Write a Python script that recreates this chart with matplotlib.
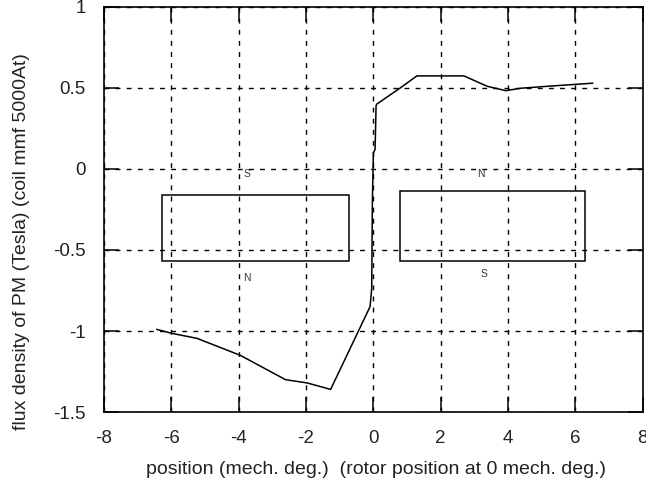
import matplotlib
matplotlib.use("Agg")
import matplotlib.pyplot as plt
from matplotlib.patches import Rectangle

plt.rcParams['font.family'] = ['Liberation Sans', 'DejaVu Sans']

# flux density profile along the air gap
position = [-6.43, -5.99, -5.24, -3.95, -2.61, -1.97, -1.27, -0.10, -0.05,
            -0.03, 0.00, 0.05, 0.08, 0.10, 0.80, 1.29, 2.69, 3.38, 3.93,
            4.38, 5.17, 6.51]
flux = [-0.99, -1.014, -1.045, -1.15, -1.30, -1.32, -1.36, -0.85, -0.74,
        -0.20, 0.10, 0.12, 0.39, 0.40, 0.50, 0.574, 0.574, 0.51, 0.483,
        0.498, 0.51, 0.529]

# permanent magnet outlines: (x0, x1, y0, y1)
magnets = [(-6.27, -0.73, -0.565, -0.16), (0.80, 6.27, -0.565, -0.134)]
# pole labels: (x, y, text)
poles = [(-3.75, -0.03, 'S'), (-3.75, -0.67, 'N'), (3.2, -0.03, 'N'), (3.29, -0.65, 'S')]

xticks = [-8, -6, -4, -2, 0, 2, 4, 6, 8]
yticks = [-1.5, -1, -0.5, 0, 0.5, 1]
ytick_labels = ['-1.5', '-1', '-0.5', '0', '0.5', '1']

fig = plt.figure(figsize=(6.46, 4.90), dpi=100)
ax = fig.add_axes([0.161, 0.159, 0.834, 0.827])

ax.plot(position, flux, color='black', lw=1.1)

for x0, x1, y0, y1 in magnets:
    ax.add_patch(Rectangle((x0, y0), x1 - x0, y1 - y0, fill=False,
                           edgecolor='black', lw=1.1))
for x, y, t in poles:
    ax.text(x, y, t, fontsize=7.5, color='#333333', ha='center', va='center')

ax.set_xlim(-8, 8)
ax.set_ylim(-1.5, 1)
ax.set_xticks(xticks)
ax.set_xticklabels([str(t) for t in xticks])
ax.set_yticks(yticks)
ax.set_yticklabels(ytick_labels)

ax.grid(True, color='black', linestyle=(0, (3.5, 4.5)), lw=1.0)
ax.tick_params(direction='in', length=11, width=1.1, top=True, right=True,
               labelsize=13.5, color='black', labelcolor='#222222')
ax.tick_params(axis='y', pad=13)
ax.tick_params(axis='x', pad=13)
for s in ax.spines.values():
    s.set_linewidth(1.2)

ax.set_xlabel('position (mech. deg.)  (rotor position at 0 mech. deg.)',
              fontsize=14, color='#222222', va='top')
ax.xaxis.set_label_coords(0.505, -0.12)
ax.set_ylabel('flux density of PM (Tesla) (coil mmf 5000At)',
              fontsize=14, color='#222222', va='bottom')
ax.yaxis.set_label_coords(-0.138, 0.42)

fig.savefig('out.png', dpi=100)
